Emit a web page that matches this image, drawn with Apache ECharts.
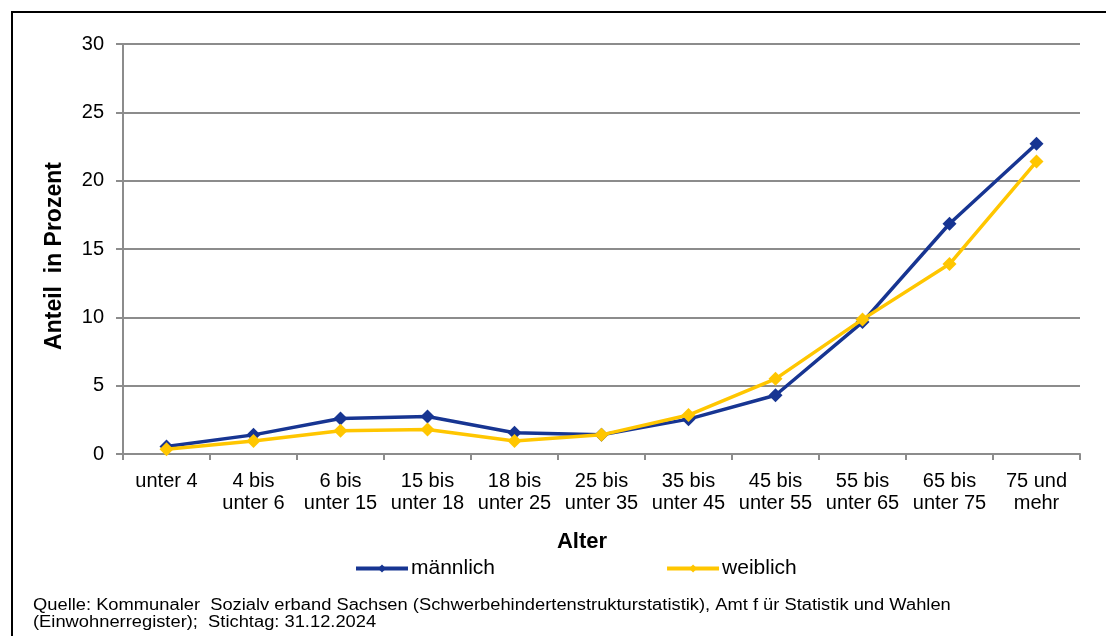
<!DOCTYPE html>
<html>
<head>
<meta charset="utf-8">
<script src="https://cdn.jsdelivr.net/npm/echarts@6/dist/echarts.min.js"></script>
<style>
html,body{margin:0;padding:0;background:#fff;}
#frame{position:absolute;left:11px;top:11px;width:1200px;height:700px;border-left:2px solid #000;border-top:2px solid #000;box-sizing:border-box;}
#chart{position:absolute;left:0;top:0;width:1106px;height:636px;}
</style>
</head>
<body>
<div id="frame"></div>
<div id="chart"></div>
<script>
const categories = ['unter 4','4 bis\nunter 6','6 bis\nunter 15','15 bis\nunter 18','18 bis\nunter 25','25 bis\nunter 35','35 bis\nunter 45','45 bis\nunter 55','55 bis\nunter 65','65 bis\nunter 75','75 und\nmehr'];
const maennlich = [0.55, 1.4, 2.6, 2.75, 1.55, 1.4, 2.55, 4.3, 9.65, 16.85, 22.7];
const weiblich  = [0.35, 0.95, 1.7, 1.8, 0.95, 1.4, 2.85, 5.5, 9.85, 13.9, 21.4];
const yTicks = [0, 5, 10, 15, 20, 25, 30];
const seriesNames = ['männlich', 'weiblich'];

const font = 'Liberation Sans, Arial, sans-serif';
const chart = echarts.init(document.getElementById('chart'), null, {renderer: 'canvas'});
chart.setOption({
  backgroundColor: 'transparent',
  animation: false,
  grid: {left: 123, right: 26, top: 44, bottom: 182, containLabel: false},
  xAxis: {
    type: 'category',
    data: categories,
    boundaryGap: true,
    axisLine: {lineStyle: {color: '#8c8c8c', width: 2}},
    axisTick: {show: true, alignWithLabel: false, length: 6, lineStyle: {color: '#8c8c8c', width: 2}},
    axisLabel: {color: '#000', fontFamily: font, fontSize: 20, lineHeight: 22, margin: 16, interval: 0}
  },
  yAxis: {
    type: 'value',
    min: yTicks[0], max: yTicks[yTicks.length - 1], interval: 5,
    axisLine: {show: true, lineStyle: {color: '#8c8c8c', width: 2}},
    axisTick: {show: true, length: 7, lineStyle: {color: '#8c8c8c', width: 2}},
    axisLabel: {color: '#000', fontFamily: font, fontSize: 20, margin: 19},
    splitLine: {lineStyle: {color: '#8c8c8c', width: 2}}
  },
  legend: {
    data: seriesNames,
    left: 354, top: 558,
    padding: 0,
    itemGap: 170,
    itemWidth: 52, itemHeight: 10,
    lineStyle: {width: 4},
    textStyle: {color: '#000', fontFamily: font, fontSize: 21, padding: [0, 0, 0, -2]}
  },
  graphic: [
    {type: 'text', x: 582, y: 542, z: 10,
     style: {text: 'Alter', font: 'bold 22px ' + font, fill: '#000', align: 'center', verticalAlign: 'middle'}},
    {type: 'text', x: 55, y: 256, rotation: Math.PI / 2, z: 10,
     style: {text: 'Anteil  in Prozent', font: 'bold 23px ' + font, fill: '#000', align: 'center', verticalAlign: 'middle'}},
    {type: 'text', x: 33, y: 597, scaleX: 1.145, z: 10,
     style: {text: 'Quelle: Kommunaler  Sozialv erband Sachsen (Schwerbehindertenstrukturstatistik), Amt f ür Statistik und Wahlen\n(Einwohnerregister);  Stichtag: 31.12.2024', font: '16px ' + font, fill: '#000', lineHeight: 17}}
  ],
  series: [
    {name: seriesNames[0], type: 'line', data: maennlich, symbol: 'diamond', symbolSize: 14,
     lineStyle: {color: '#173592', width: 3.5}, itemStyle: {color: '#173592'}, z: 2},
    {name: seriesNames[1], type: 'line', data: weiblich, symbol: 'diamond', symbolSize: 14,
     lineStyle: {color: '#ffc600', width: 3.5}, itemStyle: {color: '#ffc600'}, z: 3}
  ]
});
</script>
</body>
</html>
